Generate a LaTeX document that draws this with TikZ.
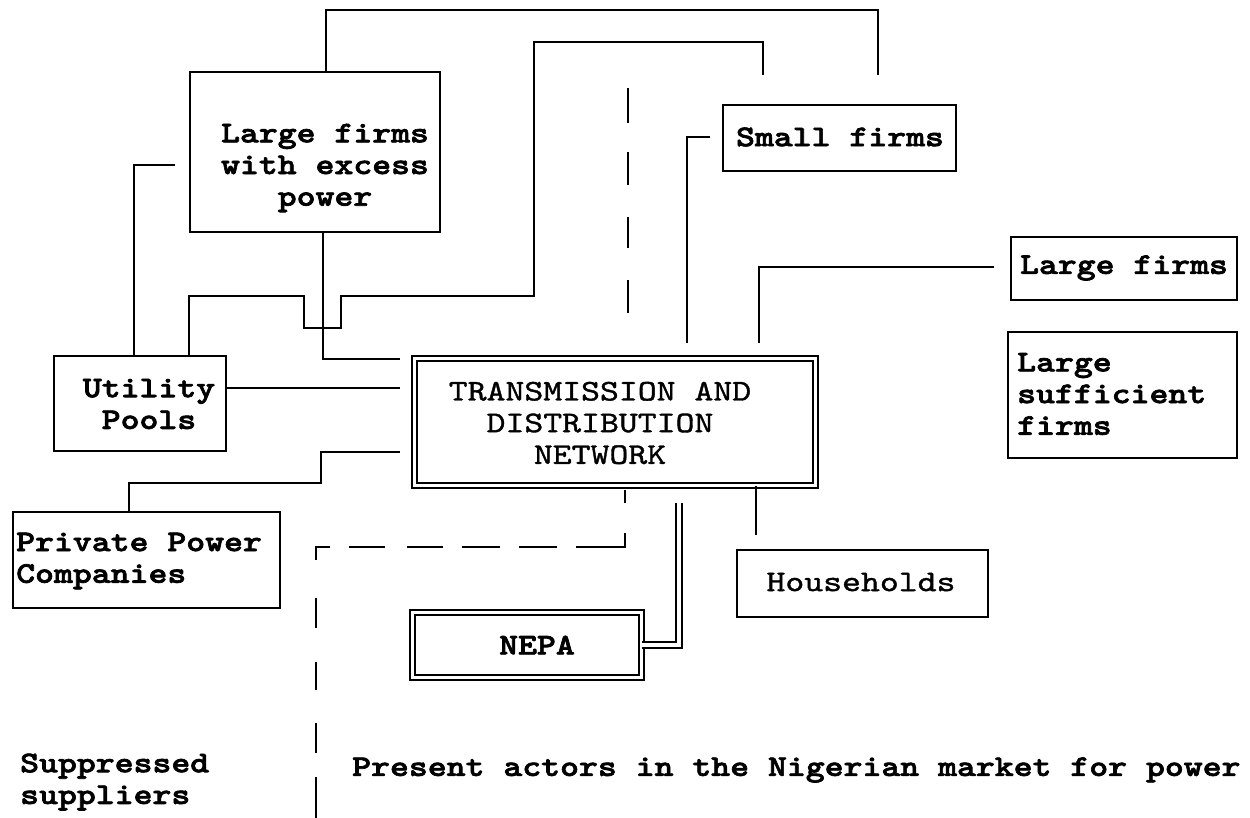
\documentclass[tikz,border=0pt]{standalone}
\usepackage{fontspec}
\newfontfamily\courfont{lmmono10-regular}[Extension=.otf, FakeStretch=1.2, FakeBold=1.2,
  BoldFont=lmmonolt10-bold, BoldFeatures={FakeBold=2.2}]
\begin{document}
\begin{tikzpicture}[x=1pt,y=-1pt,
  box/.style={draw, line width=2.6pt, rectangle, inner sep=0pt, outer sep=0pt},
  dbox/.style={draw, line width=1.8pt, double, double distance=3pt, rectangle, inner sep=0pt, outer sep=0pt},
  lbl/.style={inner sep=0pt, font=\courfont\bfseries\fontsize{30}{31.7}\selectfont, align=center},
  lblr/.style={inner sep=0pt, font=\courfont\fontsize{30}{31.7}\selectfont, align=center},
  conn/.style={line width=2.5pt},
  dconn/.style={line width=1.6pt, double, double distance=4.4pt},
  divider/.style={line width=2.5pt}]
\useasboundingbox (0,0) rectangle (1250,818);

% boxes
\node[box, minimum width=250pt, minimum height=160pt] (exc)   at (315,152) {};
\node[box, minimum width=233pt, minimum height=66pt]  (small) at (839.5,138) {};
\node[box, minimum width=226pt, minimum height=63pt]  (large) at (1124,268.5) {};
\node[box, minimum width=229pt, minimum height=126pt] (suff)  at (1122.5,395) {};
\node[box, minimum width=172pt, minimum height=95pt]  (util)  at (140,403.5) {};
\node[box, minimum width=267pt, minimum height=96pt]  (priv)  at (146.5,560) {};
\node[box, minimum width=251pt, minimum height=67pt]  (house) at (862.5,583.5) {};
\node[dbox, minimum width=401pt, minimum height=127pt] (net)  at (615,422) {};
\node[dbox, minimum width=229pt, minimum height=65pt]  (nepa) at (527,645) {};

% texts
\node[lbl] (exct) at (325,168) {Large firms\\with excess\\power};
\node[lbl] (smallt) at (840,137) {Small firms};
\node[lbl] (larget) at (1124,268) {Large firms};
\node[lbl, align=left, anchor=west] (sufft) at (1017,394) {Large\\sufficient\\firms};
\node[lbl] (utilt) at (149,404) {Utility\\Pools};
\node[lbl, align=left, anchor=west] (privt) at (16,561) {Private Power\\Companies};
\node[lblr] (houset) at (861,582) {Households};
\node[lblr] (nett) at (600,423) {TRANSMISSION AND\\DISTRIBUTION\\NETWORK};
\node[lbl] (nepat) at (537,645) {NEPA};
\node[lbl, align=left, anchor=west] (suppt) at (20,782) {Suppressed\\suppliers};
\node[lbl, anchor=west] (presentt) at (352,770) {Present actors in the Nigerian market for power};

% free ends of connectors
\coordinate (sm1) at (878,75);
\coordinate (sm2) at (763,75);
\coordinate (excl) at (175,165);
\coordinate (netl1) at (400,359);
\coordinate (netl2) at (400,388);
\coordinate (netl3) at (400,452);
\coordinate (smallw) at (710,137);
\coordinate (nett1) at (687,343);
\coordinate (largew) at (994,267);
\coordinate (nett2) at (759,343);
\coordinate (housen) at (756,535);
\coordinate (netb) at (625,490);
\coordinate (netb2) at (679,503);
\coordinate (divtop) at (628,88);
\coordinate (divbot) at (628,313);

% connectors
\draw[conn] (exc.north -| 326,0) -- (326,10) -- (878,10) -- (sm1);
\draw[conn] (util.north -| 189,0) -- (189,296) -- (304,296) -- (304,328) -- (341,328)
            -- (341,296) -- (534,296) -- (534,42) -- (763,42) -- (sm2);
\draw[conn] (exc.south -| 323,0) -- (323,359) -- (netl1);
\draw[conn] (excl) -- (134,165) -- (util.north -| 134,0);
\draw[conn] (util.east |- 0,388) -- (netl2);
\draw[conn] (netl3) -- (321,452) -- (321,483) -- (129,483) -- (priv.north -| 129,0);
\draw[conn] (smallw) -- (687,137) -- (nett1);
\draw[conn] (largew) -- (759,267) -- (nett2);
\draw[conn] (net.south -| 756,0) -- (housen);
\draw[dconn] (netb2) -- (679,645) -- (nepa.east |- 0,645);

% dashed lines
\draw[divider, dash pattern=on 35pt off 29pt on 33pt off 32pt on 31pt off 32pt on 40pt off 200pt] (divtop) -- (divbot);
\draw[divider, dash pattern=on 13pt off 30pt on 63pt off 19pt on 38pt off 19pt on 38pt off 19pt on 36pt off 22pt on 36pt off 19pt on 27pt off 38pt on 30pt off 34pt on 28pt off 33pt on 30pt off 24pt on 60pt off 200pt]
  (netb) -- (625,547) -- (316,547) -- (316,818);
\end{tikzpicture}
\end{document}
